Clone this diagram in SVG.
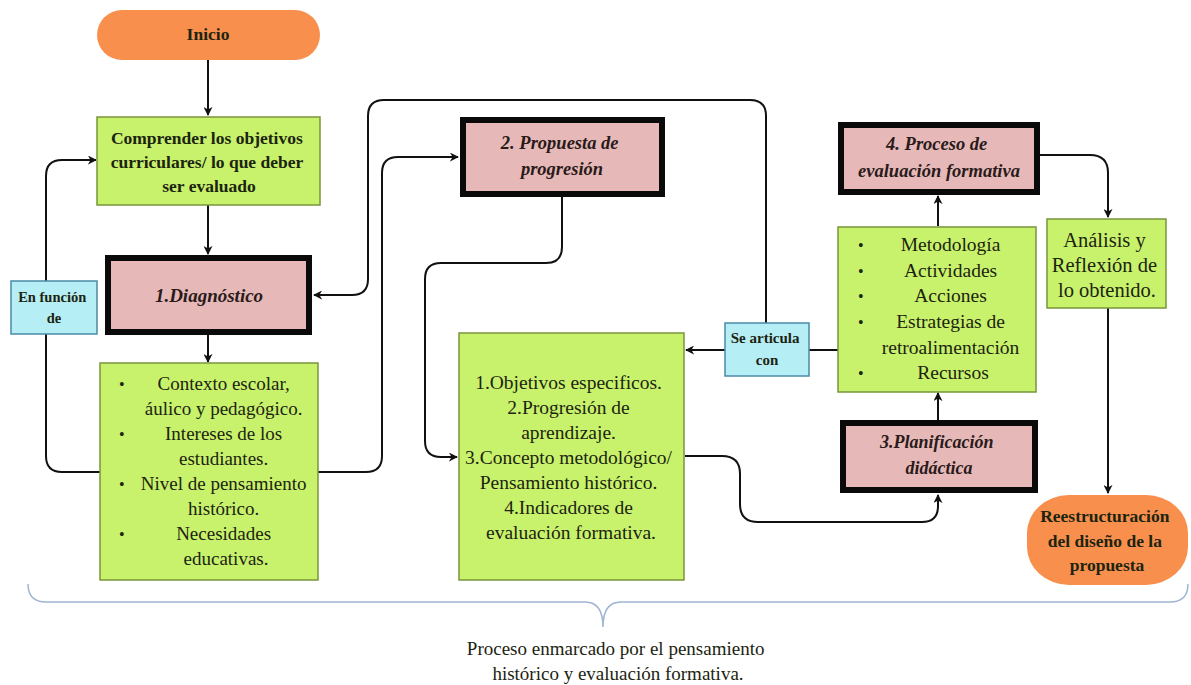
<svg xmlns="http://www.w3.org/2000/svg" width="1191" height="685" viewBox="0 0 1191 685">
  <style>
    text { font-family: "Liberation Serif", "Times New Roman", "DejaVu Serif", serif; }
    .txt { fill: #1c2410; text-anchor: middle; }
    .bold { font-weight: bold; }
    .step { font-weight: bold; font-style: italic; fill: #2a1a1a; }
    .green { fill: #c8f26c; stroke: #78953c; stroke-width: 1.5; }
    .pink { fill: #e6b9b8; stroke: #0a0a0a; stroke-width: 6; }
    .cyan { fill: #b6eef5; stroke: #4a8aa6; stroke-width: 1.5; }
    .orange { fill: #f88f4d; }
    .link { fill: none; stroke: #111; stroke-width: 2; }
    .bul { fill: #1c2410; font-size: 16px; }
  </style>
  <defs>
    <marker id="arrow" viewBox="0 0 10 10" refX="9" refY="5" markerWidth="9" markerHeight="9" markerUnits="userSpaceOnUse" orient="auto">
      <path d="M0,0 L10,5 L0,10 L3,5 Z" fill="#111"/>
    </marker>
  </defs>

  <rect width="1191" height="685" fill="#ffffff"/>

  <!-- connectors -->
  <g id="connectors">
    <path class="link" d="M208,60 V115" marker-end="url(#arrow)"/>
    <path class="link" d="M208,205 V254" marker-end="url(#arrow)"/>
    <path class="link" d="M208,335 V362" marker-end="url(#arrow)"/>
    <!-- feedback loop: context back to curricular objectives -->
    <path class="link" d="M100,472 H62 Q46,472 46,456 V176 Q46,160 62,160 H96" marker-end="url(#arrow)"/>
    <!-- context to progression proposal -->
    <path class="link" d="M318,472 H366 Q382,472 382,456 V173 Q382,157 398,157 H458" marker-end="url(#arrow)"/>
    <!-- articulation back to diagnosis -->
    <path class="link" d="M766,323 V116 Q766,100 750,100 H384 Q368,100 368,116 V279 Q368,295 352,295 H314" marker-end="url(#arrow)"/>
    <!-- proposal to objectives -->
    <path class="link" d="M562,197 V247 Q562,263 546,263 H441 Q425,263 425,279 V441 Q425,457 441,457 H457" marker-end="url(#arrow)"/>
    <!-- objectives to planning -->
    <path class="link" d="M685,456 H722 Q740,456 740,474 V504 Q740,522 758,522 H922 Q938,522 938,506 V495" marker-end="url(#arrow)"/>
    <!-- articulation -->
    <path class="link" d="M725,350 H686" marker-end="url(#arrow)"/>
    <path class="link" d="M809,350 H838"/>
    <path class="link" d="M938,420 V393" marker-end="url(#arrow)"/>
    <path class="link" d="M938,226 V196" marker-end="url(#arrow)"/>
    <path class="link" d="M1040,155 H1090 Q1108,155 1108,173 V217" marker-end="url(#arrow)"/>
    <path class="link" d="M1108,308 V493" marker-end="url(#arrow)"/>
  </g>

  <g id="inicio">
    <rect class="orange" x="97" y="10" width="223" height="50" rx="25"/>
    <text class="txt bold" x="208" y="40" font-size="17.5">Inicio</text>
  </g>

  <g id="objetivos-curriculares">
    <rect class="green" x="97" y="117" width="223" height="88"/>
    <text class="txt bold" font-size="17.5">
      <tspan x="209" y="144">Comprender los objetivos</tspan>
      <tspan x="209" y="168">curriculares/ lo que deber</tspan>
      <tspan x="209" y="192">ser evaluado</tspan>
    </text>
  </g>

  <g id="en-funcion">
    <rect class="cyan" x="11" y="281" width="86" height="53"/>
    <text class="txt bold" font-size="14.5">
      <tspan x="54" y="302">En función</tspan>
      <tspan x="54" y="323">de</tspan>
    </text>
  </g>

  <g id="diagnostico">
    <rect class="pink" x="108" y="258" width="201" height="74"/>
    <text class="txt step" x="209" y="302" font-size="19">1.Diagnóstico</text>
  </g>

  <g id="contexto">
    <rect class="green" x="100" y="363" width="218" height="217"/>
    <text class="bul" x="119" y="390">•</text>
    <text class="bul" x="119" y="440">•</text>
    <text class="bul" x="119" y="490">•</text>
    <text class="bul" x="119" y="540">•</text>
    <text class="txt" font-size="19">
      <tspan x="226" y="390">Contexto escolar,</tspan>
      <tspan x="226" y="415">áulico y pedagógico.</tspan>
      <tspan x="226" y="440">Intereses de los</tspan>
      <tspan x="226" y="465">estudiantes.</tspan>
      <tspan x="226" y="490">Nivel de pensamiento</tspan>
      <tspan x="226" y="515">histórico.</tspan>
      <tspan x="226" y="540">Necesidades</tspan>
      <tspan x="226" y="565">educativas.</tspan>
    </text>
  </g>

  <g id="propuesta">
    <rect class="pink" x="463" y="120" width="199" height="74"/>
    <text class="txt step" font-size="18.5">
      <tspan x="562" y="149">2. Propuesta de</tspan>
      <tspan x="562" y="175">progresión</tspan>
    </text>
  </g>

  <g id="objetivos-especificos">
    <rect class="green" x="459" y="333" width="225" height="247"/>
    <text class="txt" font-size="19.5">
      <tspan x="571" y="389">1.Objetivos especificos.</tspan>
      <tspan x="571" y="414">2.Progresión de</tspan>
      <tspan x="571" y="439">aprendizaje.</tspan>
      <tspan x="571" y="464">3.Concepto metodológico/</tspan>
      <tspan x="571" y="489">Pensamiento histórico.</tspan>
      <tspan x="571" y="514">4.Indicadores de</tspan>
      <tspan x="571" y="539">evaluación formativa.</tspan>
    </text>
  </g>

  <g id="se-articula">
    <rect class="cyan" x="725" y="323" width="84" height="53"/>
    <text class="txt bold" font-size="15">
      <tspan x="767" y="343">Se articula</tspan>
      <tspan x="767" y="365">con</tspan>
    </text>
  </g>

  <g id="proceso-evaluacion">
    <rect class="pink" x="841" y="125" width="196" height="67"/>
    <text class="txt step" font-size="18.5">
      <tspan x="939" y="150">4. Proceso de</tspan>
      <tspan x="939" y="177">evaluación formativa</tspan>
    </text>
  </g>

  <g id="metodologia">
    <rect class="green" x="838" y="227" width="198" height="165"/>
    <text class="bul" x="858" y="251">•</text>
    <text class="bul" x="858" y="277">•</text>
    <text class="bul" x="858" y="302">•</text>
    <text class="bul" x="858" y="328">•</text>
    <text class="bul" x="858" y="379">•</text>
    <text class="txt" font-size="19.5">
      <tspan x="953" y="251">Metodología</tspan>
      <tspan x="953" y="277">Actividades</tspan>
      <tspan x="953" y="302">Acciones</tspan>
      <tspan x="953" y="328">Estrategias de</tspan>
      <tspan x="953" y="354">retroalimentación</tspan>
      <tspan x="953" y="379">Recursos</tspan>
    </text>
  </g>

  <g id="planificacion">
    <rect class="pink" x="843" y="423" width="192" height="67"/>
    <text class="txt step" font-size="18">
      <tspan x="939" y="448">3.Planificación</tspan>
      <tspan x="939" y="474">didáctica</tspan>
    </text>
  </g>

  <g id="analisis">
    <rect class="green" x="1047" y="219" width="119" height="89"/>
    <text class="txt" font-size="20.5">
      <tspan x="1107" y="247">Análisis y</tspan>
      <tspan x="1107" y="272">Reflexión de</tspan>
      <tspan x="1107" y="297">lo obtenido.</tspan>
    </text>
  </g>

  <g id="reestructuracion">
    <rect class="orange" x="1027" y="495" width="161" height="90" rx="42" ry="38"/>
    <text class="txt bold" font-size="17.5">
      <tspan x="1107" y="522">Reestructuración</tspan>
      <tspan x="1107" y="547">del diseño  de la</tspan>
      <tspan x="1107" y="571">propuesta</tspan>
    </text>
  </g>

  <!-- brace framing the whole process -->
  <g id="marco">
    <path d="M28,584 Q28,602 46,602 H585 Q603,602 603,627 Q603,602 621,602 H1170 Q1188,602 1188,584" fill="none" stroke="#9fb4d2" stroke-width="1.5"/>
    <text class="txt" font-size="19" fill="#222">
      <tspan x="618" y="655">Proceso enmarcado por el pensamiento</tspan>
      <tspan x="618" y="680">histórico y evaluación formativa.</tspan>
    </text>
  </g>
</svg>
